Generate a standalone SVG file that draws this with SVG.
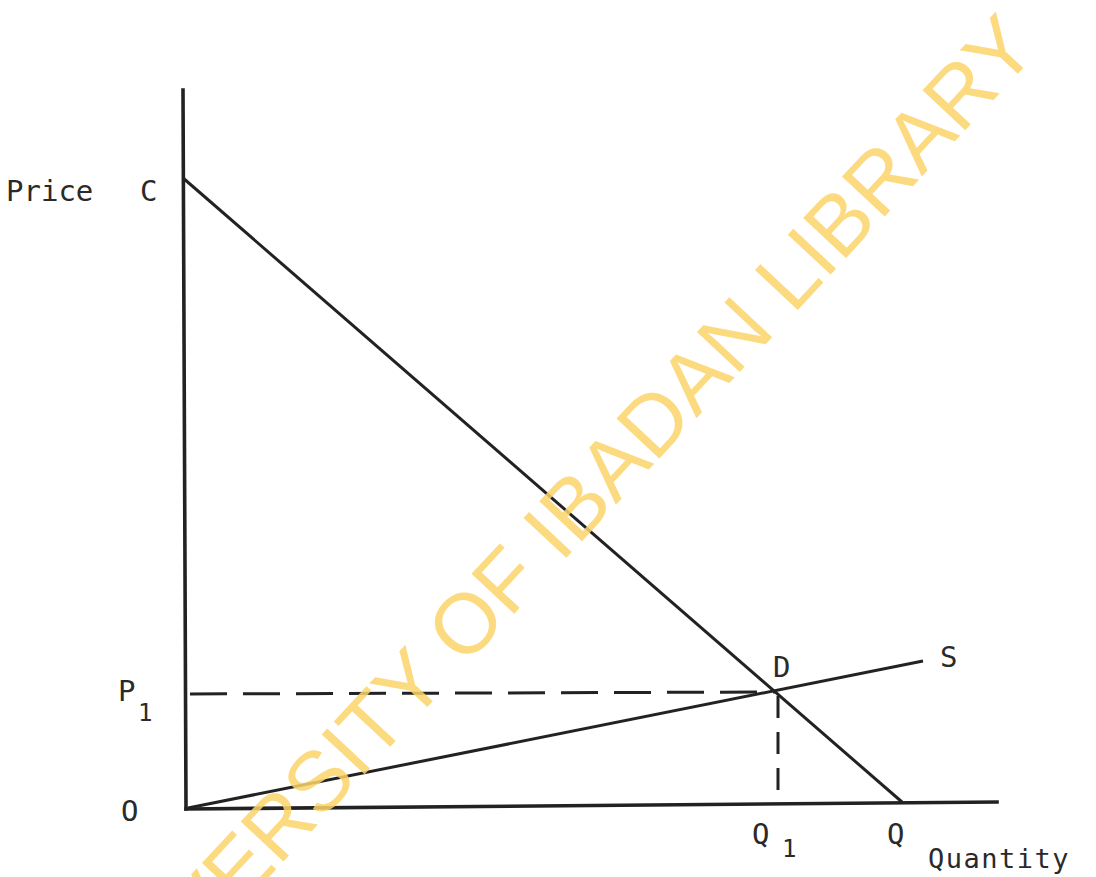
<svg xmlns="http://www.w3.org/2000/svg" width="1096" height="877" viewBox="0 0 1096 877">
<style>
.lbl{font-family:"DejaVu Sans Mono","Liberation Mono",monospace;fill:#2a2a2a;}
.ax{stroke:#222;stroke-width:3.6;fill:none;stroke-linecap:square;}
.ln{stroke:#222;stroke-width:3;fill:none;}
.dash{stroke:#222;stroke-width:3;fill:none;}
.wm{font-family:"Liberation Sans",Arial,sans-serif;fill:#FBD46A;fill-opacity:0.85;}
</style>
<rect width="1096" height="877" fill="#ffffff"/>
<g id="connectors">
  <path class="ax" d="M183 90 L186 809"/>
  <path class="ax" d="M186 809 L997 802"/>
  <path id="demand" class="ln" d="M183 178 L902 802"/>
  <path id="supply" class="ln" d="M188 808 L923 661"/>
  <path id="p1-dash" class="dash" stroke-dasharray="37 16" d="M190 694 L775 692"/>
  <path id="q1-dash" class="dash" stroke-dasharray="22 14" d="M778 696 L778 802"/>
</g>
<g id="node-price"><text class="lbl" x="6" y="201" font-size="29">Price</text></g>
<g id="node-C"><text class="lbl" x="140" y="201" font-size="29">C</text></g>
<g id="node-P1"><text class="lbl" x="118" y="701" font-size="29">P</text><text class="lbl" x="138" y="721" font-size="24">1</text></g>
<g id="node-O"><text class="lbl" x="121" y="821" font-size="29">O</text></g>
<g id="node-D"><text class="lbl" x="773" y="677" font-size="29">D</text></g>
<g id="node-S"><text class="lbl" x="940" y="667" font-size="29">S</text></g>
<g id="node-Q1"><text class="lbl" x="752" y="844" font-size="29">Q</text><text class="lbl" x="782" y="857" font-size="24">1</text></g>
<g id="node-Q"><text class="lbl" x="887" y="844" font-size="29">Q</text></g>
<g id="node-quantity"><text class="lbl" x="928" y="868" font-size="27" letter-spacing="1.5">Quantity</text></g>
<g id="watermark"><text class="wm" x="1040" y="50" font-size="85" text-anchor="end" transform="rotate(-47 1040 50)">UNIVERSITY OF IBADAN LIBRARY</text></g>
</svg>
